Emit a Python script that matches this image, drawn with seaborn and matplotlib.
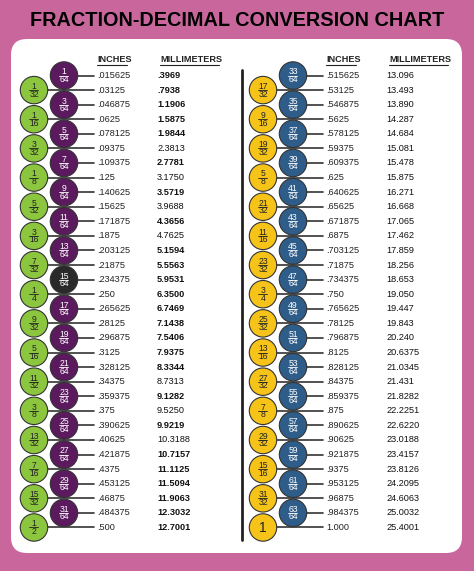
import matplotlib
matplotlib.use("Agg")
import matplotlib.pyplot as plt
from matplotlib.patches import FancyBboxPatch
import seaborn as sns
import pandas as pd

sns.set_theme(style="white")
plt.rcParams['font.family'] = ['Liberation Sans', 'DejaVu Sans']

num = [1,1,3,1,5,3,7,1,9,5,11,3,13,7,15,1,17,9,19,5,21,11,23,3,25,13,27,7,29,15,31,1,
       33,17,35,9,37,19,39,5,41,21,43,11,45,23,47,3,49,25,51,13,53,27,55,7,57,29,59,15,61,31,63,1]
den = [64,32,64,16,64,32,64,8,64,32,64,16,64,32,64,4,64,32,64,16,64,32,64,8,64,32,64,16,64,32,64,2,
       64,32,64,16,64,32,64,8,64,32,64,16,64,32,64,4,64,32,64,16,64,32,64,8,64,32,64,16,64,32,64,1]
inches = [".015625",".03125",".046875",".0625",".078125",".09375",".109375",".125",
          ".140625",".15625",".171875",".1875",".203125",".21875",".234375",".250",
          ".265625",".28125",".296875",".3125",".328125",".34375",".359375",".375",
          ".390625",".40625",".421875",".4375",".453125",".46875",".484375",".500",
          ".515625",".53125",".546875",".5625",".578125",".59375",".609375",".625",
          ".640625",".65625",".671875",".6875",".703125",".71875",".734375",".750",
          ".765625",".78125",".796875",".8125",".828125",".84375",".859375",".875",
          ".890625",".90625",".921875",".9375",".953125",".96875",".984375","1.000"]
mm = [".3969",".7938","1.1906","1.5875","1.9844","2.3813","2.7781","3.1750",
      "3.5719","3.9688","4.3656","4.7625","5.1594","5.5563","5.9531","6.3500",
      "6.7469","7.1438","7.5406","7.9375","8.3344","8.7313","9.1282","9.5250",
      "9.9219","10.3188","10.7157","11.1125","11.5094","11.9063","12.3032","12.7001",
      "13.096","13.493","13.890","14.287","14.684","15.081","15.478","15.875",
      "16.271","16.668","17.065","17.462","17.859","18.256","18.653","19.050",
      "19.447","19.843","20.240","20.6375","21.0345","21.431","21.8282","22.2251",
      "22.6220","23.0188","23.4157","23.8126","24.2095","24.6063","25.0032","25.4001"]
bold_mm = [1,1,1,1,1,0,1,0, 1,0,1,0,1,1,1,1, 1,1,1,1,1,0,1,0, 1,0,1,1,1,1,1,1] + [0]*32

fig = plt.figure(figsize=(4.74, 5.71), dpi=100)
fig.patch.set_facecolor("#c9679d")
ax = fig.add_axes([0, 0, 1, 1])

ax.add_patch(FancyBboxPatch((11, 39), 451, 514, boxstyle="round,pad=0,rounding_size=16",
                            fc="white", ec="none", zorder=0))
ax.text(237, 21, "FRACTION-DECIMAL CONVERSION CHART", ha="center", va="center",
        fontsize=14.3, fontweight="bold", color="black")
ax.plot([242, 242], [70, 540], color="#222222", lw=2)

rows = []
y0, dy = 75.5, 14.58
for i in range(64):
    col = i // 32; r = i % 32
    y = y0 + r * dy
    base = 0 if col == 0 else 229
    big = den[i] != 64
    cx = base + (34 if big else 64)
    if den[i] == 64:
        color = "#5b1a5e" if col == 0 else "#2f5d89"
        if num[i] == 15: color = "#2a2a2a"
    else:
        color = "#8cc63e" if col == 0 else "#f6c419"
    rows.append(dict(x=cx, y=y, color=color, i=i))
    ax.plot([cx + 9, base + 94], [y, y], color="#333333", lw=1.2, zorder=1)
    ax.text(base + 97, y, inches[i], fontsize=6.6, va="center", color="#222222")
    ax.text(base + 157, y, mm[i], fontsize=6.6, va="center", color="#111111",
            fontweight="bold" if bold_mm[i] else "normal")

df = pd.DataFrame(rows)
sns.scatterplot(data=df, x="x", y="y", hue="i", palette=list(df["color"]), legend=False,
                s=390, edgecolor="#333333", linewidth=0.8, ax=ax, zorder=3)
ax.set_xlim(0, 474); ax.set_ylim(571, 0); ax.axis("off")

for k, rw in df.iterrows():
    i = int(rw["i"])
    tc = "white" if den[i] == 64 else "#222222"
    if den[i] == 1:
        ax.text(rw.x, rw.y + 0.5, "1", ha="center", va="center", fontsize=10, color=tc, zorder=4)
        continue
    ax.text(rw.x, rw.y - 3.6, str(num[i]), ha="center", va="center", fontsize=6.2, color=tc, zorder=4)
    ax.text(rw.x, rw.y + 4.0, str(den[i]), ha="center", va="center", fontsize=6.2, color=tc, zorder=4)
    ax.plot([rw.x - 4.5, rw.x + 4.5], [rw.y, rw.y], color=tc, lw=0.6, zorder=4)

for base in (0, 229):
    for hx, lab in ((97, "INCHES"), (160, "MILLIMETERS")):
        ax.text(base + hx, 60, lab, fontsize=6.6, fontweight="bold", va="center", color="#222222")
    ax.plot([base + 97, base + 127], [65, 65], color="#222222", lw=0.8)
    ax.plot([base + 160, base + 219], [65, 65], color="#222222", lw=0.8)

fig.savefig("out.png", dpi=100, facecolor=fig.get_facecolor())
